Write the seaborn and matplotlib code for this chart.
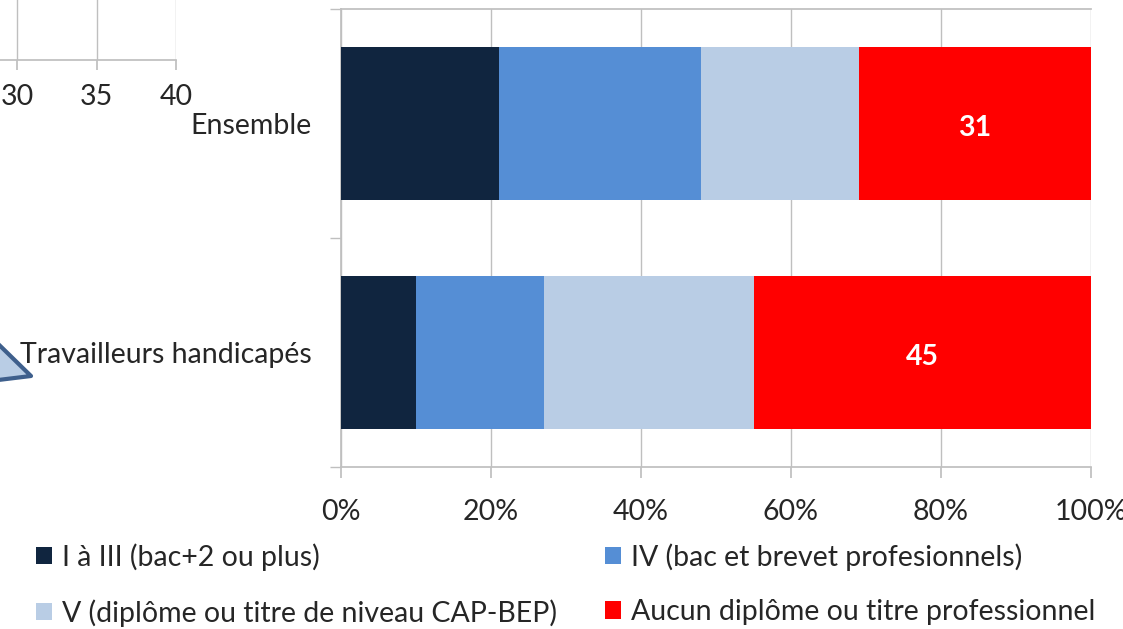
import numpy as np
import pandas as pd
import seaborn as sns
import matplotlib.pyplot as plt
from matplotlib.patches import Patch, Polygon

groups = ["Ensemble", "Travailleurs handicapés"]
levels = ["I à III (bac+2 ou plus)", "IV (bac et brevet profesionnels)",
          "V (diplôme ou titre de niveau CAP-BEP)", "Aucun diplôme ou titre professionnel"]
shares = {
    "I à III (bac+2 ou plus)": [21, 10],
    "IV (bac et brevet profesionnels)": [27, 17],
    "V (diplôme ou titre de niveau CAP-BEP)": [21, 28],
    "Aucun diplôme ou titre professionnel": [31, 45],
}
colors = ["#10253F", "#558ED5", "#B9CDE5", "#FF0000"]
labelled = "Aucun diplôme ou titre professionnel"

sns.set_theme(style="white")
plt.rcParams["font.family"] = ["Lato", "DejaVu Sans"]
FS = 20.5
grid_c = "#BFBFBF"

W, H = 1123, 629
fig = plt.figure(figsize=(W / 100, H / 100), dpi=100)

def px(x0, y0, x1, y1):
    return [x0 / W, 1 - y1 / H, (x1 - x0) / W, (y1 - y0) / H]

# leftover piece of the neighbouring chart (top left)
frag = fig.add_axes(px(0, -40, 176, 60))
frag.set_xlim(30 - 17 / 15.9, 40)
frag.set_xticks([30, 35, 40])
frag.set_yticks([])
frag.grid(axis="x", color=grid_c, lw=1)
for s in ["top", "left", "right"]:
    frag.spines[s].set_visible(False)
frag.spines["bottom"].set_color(grid_c)
frag.tick_params(axis="x", length=7, color=grid_c, labelsize=FS, pad=10, bottom=True)

fig.add_artist(Polygon([(-10 / W, 1 - 336 / H), (31 / W, 1 - 376 / H), (-10 / W, 1 - 381 / H)],
                       closed=True, transform=fig.transFigure, facecolor="#B9CDE5",
                       edgecolor="#3E5F8C", lw=3, joinstyle="round"))

# main chart: stacked bars drawn as cumulative totals, largest first
ax = fig.add_axes(px(341, 9, 1091, 467))
df = pd.DataFrame(shares, index=groups)
cum = df.cumsum(axis=1)
for lev, col in reversed(list(zip(levels, colors))):
    sns.barplot(x=cum[lev].values, y=groups, orient="h", color=col,
                width=0.67, saturation=1, linewidth=0, ax=ax, zorder=3)

for i, g in enumerate(groups):
    v = df.loc[g, labelled]
    ax.text(100 - v / 2, i + 0.02, f"{v}", ha="center", va="center", color="white",
            fontsize=FS, fontweight="bold", zorder=5)

ax.set_xlim(0, 100)
ax.set_ylim(1.5, -0.5)
ax.set_xticks(np.arange(0, 101, 20))
ax.set_xticklabels([f"{t}%" for t in range(0, 101, 20)])
ax.set_yticks([-0.5, 0.5, 1.5], minor=True)
ax.set_xlabel("")
ax.set_ylabel("")
ax.grid(axis="x", color=grid_c, lw=1, zorder=0)
ax.grid(axis="y", visible=False)
for s in ax.spines.values():
    s.set_color(grid_c)
ax.spines["right"].set_visible(False)
ax.tick_params(axis="x", length=8, color=grid_c, labelsize=FS, pad=15, bottom=True)
ax.tick_params(axis="y", which="major", length=0, labelsize=FS, pad=21)
ax.tick_params(axis="y", which="minor", length=8, color=grid_c, left=True)

handles = [Patch(facecolor=c, edgecolor="none") for c in colors]
order = [0, 2, 1, 3]
fig.legend([handles[i] for i in order], [levels[i] for i in order], ncol=2,
           loc="lower left", bbox_to_anchor=(25 / W, -9 / H), frameon=False, fontsize=FS,
           handlelength=0.55, handleheight=0.55, handletextpad=0.35,
           columnspacing=1.7, labelspacing=1.0, borderaxespad=0.0)

fig.savefig("out.png", dpi=100)
